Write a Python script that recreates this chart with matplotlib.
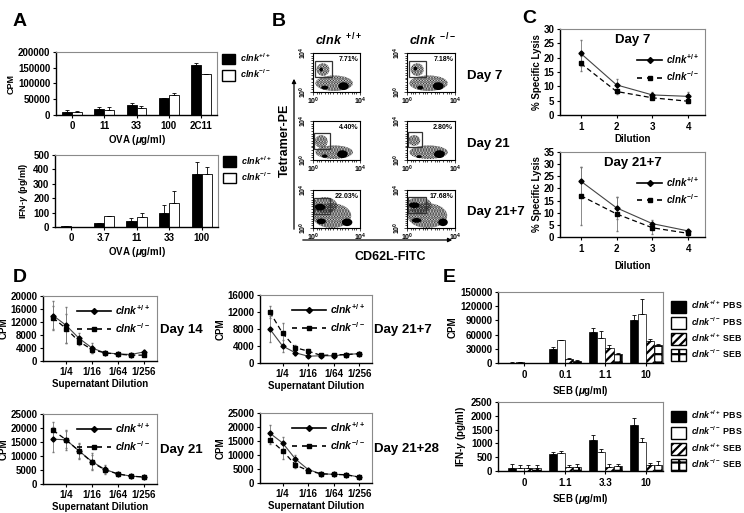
import matplotlib
matplotlib.use("Agg")
import matplotlib.pyplot as plt
import numpy as np
from matplotlib.patches import Ellipse, Rectangle, Patch
from matplotlib.lines import Line2D

plt.rcParams['font.family'] = ['Liberation Sans', 'DejaVu Sans']
plt.rcParams['font.weight'] = 'bold'
plt.rcParams['mathtext.fontset'] = 'custom'
plt.rcParams['mathtext.rm'] = 'Liberation Sans:bold'
plt.rcParams['mathtext.it'] = 'Liberation Sans:italic:bold'
plt.rcParams['mathtext.bf'] = 'Liberation Sans:bold'
plt.rcParams['hatch.linewidth'] = 1.6

WT = r'$\mathit{clnk}^{+/+}$'
KO = r'$\mathit{clnk}^{-/-}$'

# ---------------- data ----------------
# Panel A
a1_groups = ['0', '11', '33', '100', '2C11']
a1_wt = [10000, 18000, 32000, 53000, 160000]
a1_wt_err = [5000, 8000, 6000, 2000, 6000]
a1_ko = [10000, 16000, 23000, 63000, 130000]
a1_ko_err = [4000, 10000, 6000, 8000, 0]

a2_groups = ['0', '3.7', '11', '33', '100']
a2_wt = [5, 25, 40, 100, 365]
a2_wt_err = [0, 5, 25, 50, 85]
a2_ko = [3, 75, 70, 165, 370]
a2_ko_err = [0, 0, 25, 85, 50]

# Panel B (flow cytometry, log10 coordinates)
b_cols = [r'$\mathit{clnk}^{\ +/+}$', r'$\mathit{clnk}^{\ -/-}$']
b_rows = ['Day 7', 'Day 21', 'Day 21+7']
b_pct = ['7.71%', '7.18%', '4.40%', '2.80%', '22.03%', '17.68%']
b_gates = [(0.15, 1.6, 1.5, 3.2), (0.15, 1.6, 1.5, 3.2),
           (0.05, 1.45, 1.1, 2.8), (0.05, 1.25, 1.3, 2.9),
           (0.05, 1.45, 1.5, 3.2), (0.05, 1.55, 1.6, 3.3)]
b_dense = [[(2.6, 0.6, 0.9, 0.8), (1.0, 0.45, 0.6, 0.4), (0.7, 2.3, 0.3, 0.4)],
           [(2.6, 0.6, 0.9, 0.8), (1.1, 0.45, 0.5, 0.4), (0.7, 2.4, 0.3, 0.4)],
           [(2.5, 0.6, 0.9, 0.8), (1.0, 0.4, 0.5, 0.35)],
           [(2.7, 0.6, 0.9, 0.8), (1.0, 0.35, 0.45, 0.3)],
           [(2.9, 0.6, 0.9, 0.8), (0.6, 2.2, 0.9, 0.7), (0.7, 0.7, 0.8, 0.6)],
           [(3.0, 0.6, 0.8, 0.8), (0.6, 2.4, 0.9, 0.6), (0.8, 0.8, 0.8, 0.5)]]
b_sparse = [[(1.8, 0.9, 3.2, 1.6), (0.85, 2.3, 1.1, 1.3)],
            [(1.8, 0.9, 3.2, 1.6), (0.85, 2.3, 1.1, 1.3)],
            [(1.8, 0.8, 3.2, 1.4), (0.7, 1.9, 1.1, 1.3)],
            [(1.8, 0.8, 3.2, 1.4), (0.6, 2.0, 1.0, 1.1)],
            [(1.6, 1.3, 3.3, 2.6), (1.0, 2.4, 2.1, 1.7)],
            [(1.7, 1.3, 3.3, 2.6), (1.0, 2.4, 2.1, 1.7)]]

# Panel C
c_dil = [1, 2, 3, 4]
c1_wt = [21.5, 10.5, 7.0, 6.5]
c1_wt_err = [4.5, 2.0, 1.0, 1.5]
c1_ko = [18.0, 8.2, 6.0, 4.8]
c1_ko_err = [2.5, 1.0, 0.5, 0.5]
c2_wt = [23.0, 12.0, 5.5, 2.5]
c2_wt_err = [6.0, 4.5, 1.5, 0.5]
c2_ko = [17.0, 9.5, 3.8, 1.5]
c2_ko_err = [12.0, 7.0, 2.5, 1.0]

# Panel D
d_dil = [1/2, 1/4, 1/8, 1/16, 1/32, 1/64, 1/128, 1/256]
d_ticks = [1/4, 1/16, 1/64, 1/256]
d_ticklabels = ['1/4', '1/16', '1/64', '1/256']
d14_wt = [14000, 11000, 7000, 4000, 2500, 2200, 2000, 2800]
d14_wt_err = [4500, 5500, 1500, 1500, 300, 200, 200, 700]
d14_ko = [13300, 10000, 6000, 3500, 2500, 2100, 1800, 1800]
d14_ko_err = [3500, 4500, 1000, 1000, 300, 200, 300, 300]
d21_wt = [16000, 15800, 11800, 8000, 5200, 3600, 2800, 2500]
d21_wt_err = [4500, 3500, 3000, 3000, 1500, 500, 300, 300]
d21_ko = [19200, 15800, 11800, 7800, 5000, 3600, 2800, 2500]
d21_ko_err = [3000, 3000, 2500, 2500, 1000, 400, 300, 300]
d217_wt = [8000, 4000, 2400, 1600, 1700, 1700, 2000, 2200]
d217_wt_err = [3000, 1500, 500, 300, 200, 200, 200, 300]
d217_ko = [12000, 7000, 3600, 2800, 1800, 1900, 2000, 2200]
d217_ko_err = [1500, 2500, 600, 400, 200, 200, 200, 300]
d2128_wt = [17800, 14300, 8600, 4800, 3300, 3100, 3000, 2100]
d2128_wt_err = [3000, 2000, 1500, 500, 300, 300, 300, 200]
d2128_ko = [15500, 11500, 6500, 4400, 3300, 3100, 2900, 2100]
d2128_ko_err = [1500, 3000, 1000, 500, 300, 300, 300, 200]

# Panel E
e_labels = [WT + ' PBS', KO + ' PBS', WT + ' SEB', KO + ' SEB']
e1_groups = ['0', '0.1', '1.1', '10']
e1_vals = [[1000, 30000, 66000, 91000],
           [2000, 49000, 53000, 104000],
           [500, 9000, 32000, 47000],
           [500, 5000, 19000, 37000]]
e1_err = [[500, 3000, 9000, 10000],
          [500, 500, 15000, 31000],
          [300, 2000, 5000, 3000],
          [300, 2000, 3000, 3000]]
e2_groups = ['0', '1.1', '3.3', '10']
e2_vals = [[120, 600, 1130, 1650],
           [120, 650, 700, 1050],
           [100, 150, 150, 200],
           [120, 150, 170, 230]]
e2_err = [[120, 100, 180, 270],
          [80, 80, 100, 130],
          [100, 80, 100, 100],
          [90, 100, 100, 150]]

# ---------------- figure ----------------
W, H = 744, 513
fig = plt.figure(figsize=(W / 100, H / 100), dpi=100)
fig.patch.set_facecolor('white')


def ax_px(x0, y0, x1, y1):
    return fig.add_axes([x0 / W, 1 - y1 / H, (x1 - x0) / W, (y1 - y0) / H])


def txt(x, y, s, **kw):
    fig.text(x / W, 1 - y / H, s, **kw)


def style(ax, fs=6.5):
    for s in ['top', 'right']:
        ax.spines[s].set_color('#8a8a8a')
        ax.spines[s].set_linewidth(0.8)
    for s in ['left', 'bottom']:
        ax.spines[s].set_color('black')
        ax.spines[s].set_linewidth(1.0)
    ax.tick_params(direction='out', length=2.5, width=0.8, labelsize=fs, pad=1.5)
    for lab in ax.get_xticklabels() + ax.get_yticklabels():
        lab.set_fontweight('bold')


# Panel letters
for lx, ly, L in [(13, 22, 'A'), (272, 22, 'B'), (522, 19, 'C'), (13, 277, 'D'), (443, 277, 'E')]:
    txt(lx, ly, L, fontsize=14, fontweight='bold', va='center', ha='left')

# ---- Panel A ----
def bar_pair(ax, groups, wt, wte, ko, koe, ylim, yticks, ylabel):
    x = np.arange(len(groups))
    bw = 0.31
    ax.bar(x - bw / 2, wt, bw, color='black', edgecolor='black', linewidth=0.6)
    ax.bar(x + bw / 2, ko, bw, color='white', edgecolor='black', linewidth=0.6)
    ax.errorbar(x - bw / 2, wt, yerr=[np.zeros(len(wt)), wte], fmt='none',
                ecolor='black', elinewidth=0.6, capsize=1.5, capthick=0.6)
    ax.errorbar(x + bw / 2, ko, yerr=[np.zeros(len(ko)), koe], fmt='none',
                ecolor='black', elinewidth=0.6, capsize=1.5, capthick=0.6)
    ax.set_xlim(-0.5, len(groups) - 0.5)
    ax.set_ylim(*ylim)
    ax.set_yticks(yticks)
    ax.set_xticks(x)
    ax.set_xticklabels(groups)
    ax.tick_params(axis='x', length=0)
    ax.set_ylabel(ylabel, fontsize=6.5, fontweight='bold', labelpad=2)
    ax.set_xlabel(r'OVA ($\mu$g/ml)', fontsize=7, fontweight='bold', labelpad=2)
    style(ax, 7)
    handles = [Patch(facecolor='black', edgecolor='black'), Patch(facecolor='white', edgecolor='black')]
    ax.legend(handles, [WT, KO], loc='upper left', bbox_to_anchor=(1.01, 1.06), frameon=False,
              fontsize=6.5, handlelength=1.4, handleheight=1.4, handletextpad=0.6, labelspacing=0.4,
              borderaxespad=0)


axA1 = ax_px(56, 52, 217, 115)
bar_pair(axA1, a1_groups, a1_wt, a1_wt_err, a1_ko, a1_ko_err, (0, 200000),
         [0, 50000, 100000, 150000, 200000], 'CPM')
axA2 = ax_px(55, 155, 218, 227)
bar_pair(axA2, a2_groups, a2_wt, a2_wt_err, a2_ko, a2_ko_err, (0, 500),
         [0, 100, 200, 300, 400, 500], r'IFN-$\gamma$ (pg/ml)')

# ---- Panel B ----
col_x = [(313, 360), (407, 455)]
row_y = [(53, 92), (121, 160), (190, 228)]
minor_pos = np.log10([2, 3, 5, 10, 20, 30, 50, 100, 200, 300, 500, 1000, 2000, 3000, 5000])
for r in range(3):
    for c in range(2):
        i = r * 2 + c
        (x0, x1), (y0, y1) = col_x[c], row_y[r]
        ax = ax_px(x0, y0, x1, y1)
        ax.set_xlim(0, 4)
        ax.set_ylim(0, 4)
        for (cx, cy, w, h) in b_sparse[i]:
            ax.add_patch(Ellipse((cx, cy), w, h, facecolor='none', edgecolor='#222222',
                                 linewidth=0, hatch='......'))
        for (cx, cy, w, h) in b_dense[i]:
            ax.add_patch(Ellipse((cx, cy), w, h, facecolor='black', edgecolor='black',
                                 linewidth=0))
        gx0, gx1, gy0, gy1 = b_gates[i]
        ax.add_patch(Rectangle((gx0, gy0), gx1 - gx0, gy1 - gy0, facecolor='none',
                               edgecolor='#333333', linewidth=0.9))
        ax.text(3.85, 3.7, b_pct[i], fontsize=5, ha='right', va='top', fontweight='bold')
        ax.set_xticks([0, 4])
        ax.set_xticklabels([r'$10^0$', r'$10^4$'], fontsize=5)
        ax.set_yticks([0, 4])
        ax.set_yticklabels([r'$10^0$', r'$10^4$'], fontsize=5, rotation=90, va='center')
        ax.set_xticks(minor_pos, minor=True)
        ax.set_yticks(minor_pos, minor=True)
        ax.tick_params(which='both', direction='out', width=0.5, pad=0.5)
        ax.tick_params(which='major', length=2.5)
        ax.tick_params(which='minor', length=1.2)
        for s in ax.spines.values():
            s.set_linewidth(0.8)
for c in range(2):
    txt(sum(col_x[c]) / 2 + 2, 40, b_cols[c], fontsize=9, ha='center', va='center')
for r in range(3):
    txt(467, sum(row_y[r]) / 2 + 3, b_rows[r], fontsize=9.5, fontweight='bold', ha='left', va='center')
txt(285, 140, 'Tetramer-PE', fontsize=9, fontweight='bold', rotation=90, ha='center', va='center')
txt(390, 257, 'CD62L-FITC', fontsize=9, fontweight='bold', ha='center', va='center')
fig.add_artist(matplotlib.patches.FancyArrowPatch((294 / W, 1 - 232 / H), (294 / W, 1 - 76 / H),
               transform=fig.transFigure, arrowstyle='-|>', mutation_scale=6, linewidth=0.9, color='black'))
fig.add_artist(matplotlib.patches.FancyArrowPatch((300 / W, 1 - 240 / H), (455 / W, 1 - 240 / H),
               transform=fig.transFigure, arrowstyle='-|>', mutation_scale=6, linewidth=0.9, color='black'))


# ---- Panel C & D line plots ----
def line_pair(ax, x, wt, wte, ko, koe):
    ax.errorbar(x, wt, yerr=wte, color='#444444', linestyle='-', linewidth=0.8,
                marker='D', markersize=2.6, markerfacecolor='black', markeredgecolor='black',
                ecolor='#777777', elinewidth=0.6, capsize=1)
    ax.errorbar(x, ko, yerr=koe, color='black', linestyle=(0, (4, 2.5)), linewidth=0.9,
                marker='s', markersize=3.2, markerfacecolor='black', markeredgecolor='black',
                ecolor='#777777', elinewidth=0.6, capsize=1)


leg_handles = [Line2D([], [], color='black', linestyle='-', linewidth=1.2, marker='D', markersize=3),
               Line2D([], [], color='black', linestyle=(0, (3, 3)), linewidth=1.2, marker='s', markersize=3.5)]

for box, wt, wte, ko, koe, ymax, title, lp in [
        ((560, 29, 705, 115), c1_wt, c1_wt_err, c1_ko, c1_ko_err, 30, 'Day 7', 1.5),
        ((560, 152, 705, 237), c2_wt, c2_wt_err, c2_ko, c2_ko_err, 35, 'Day 21+7', 5)]:
    ax = ax_px(*box)
    line_pair(ax, c_dil, wt, wte, ko, koe)
    ax.set_xlim(0.42, 4.47)
    ax.set_ylim(0, ymax)
    ax.set_yticks(np.arange(0, ymax + 1, 5))
    ax.set_xticks(c_dil)
    ax.set_xlabel('Dilution', fontsize=7, fontweight='bold', labelpad=lp)
    ax.set_ylabel('% Specific Lysis', fontsize=7, fontweight='bold', labelpad=1)
    ax.text(0.5, 0.87, title, transform=ax.transAxes, fontsize=9.5, fontweight='bold', ha='center', va='center')
    ax.legend(leg_handles, [WT, KO], loc='upper right', bbox_to_anchor=(1.0, 0.8), frameon=False, fontsize=7,
              handlelength=2.6, handletextpad=0.4, labelspacing=0.35, borderaxespad=0.2)
    style(ax, 7)
    ax.tick_params(axis='x', pad=2.5)

# D
d_specs = [((43, 296, 157, 361), d14_wt, d14_wt_err, d14_ko, d14_ko_err, 20000, 4000, 'Day 14', 160),
           ((43, 414, 157, 484), d21_wt, d21_wt_err, d21_ko, d21_ko_err, 25000, 5000, 'Day 21', 160),
           ((260, 295, 372, 363), d217_wt, d217_wt_err, d217_ko, d217_ko_err, 16000, 4000, 'Day 21+7', 374),
           ((260, 413, 372, 483), d2128_wt, d2128_wt_err, d2128_ko, d2128_ko_err, 25000, 5000, 'Day 21+28', 374)]
for box, wt, wte, ko, koe, ymax, ystep, lab, labx in d_specs:
    ax = ax_px(*box)
    line_pair(ax, d_dil, wt, wte, ko, koe)
    ax.set_xscale('log', base=2)
    ax.set_xlim(2 ** -0.23, 2 ** -9)
    ax.set_ylim(0, ymax)
    ax.set_yticks(np.arange(0, ymax + 1, ystep))
    ax.set_xticks(d_ticks)
    ax.set_xticklabels(d_ticklabels)
    ax.minorticks_off()
    ax.set_xlabel('Supernatant Dilution', fontsize=7, fontweight='bold', labelpad=1.5)
    ax.set_ylabel('CPM', fontsize=7, fontweight='bold', labelpad=1)
    ax.legend(leg_handles, [WT, KO], loc='upper right', frameon=False, fontsize=7.5,
              handlelength=3.2, handletextpad=0.4, labelspacing=0.35, borderaxespad=0.3)
    style(ax, 7)
    ax.tick_params(axis='x', pad=2)
    txt(labx, (box[1] + box[3]) / 2 + 1, lab, fontsize=9.5, fontweight='bold', ha='left', va='center')

# ---- Panel E ----
e_faces = ['black', 'white', 'white', 'white']
e_hatches = [None, None, '////', '++']


def bar_quad(ax, groups, vals, errs, ylim, yticks, ylabel):
    x = np.arange(len(groups))
    bw = 0.2
    for k in range(4):
        xs = x + (k - 1.5) * bw
        ax.bar(xs, vals[k], bw, color=e_faces[k], edgecolor='black', linewidth=0.5, hatch=e_hatches[k])
        ax.errorbar(xs, vals[k], yerr=[np.zeros(len(groups)), errs[k]], fmt='none',
                    ecolor='black', elinewidth=0.6, capsize=1.3, capthick=0.6)
    ax.set_xlim(-0.65, len(groups) - 0.58)
    ax.set_ylim(*ylim)
    ax.set_yticks(yticks)
    ax.set_xticks(x)
    ax.set_xticklabels(groups)
    ax.tick_params(axis='x', length=0)
    ax.set_ylabel(ylabel, fontsize=7, fontweight='bold', labelpad=2)
    ax.set_xlabel(r'SEB ($\mu$g/ml)', fontsize=7, fontweight='bold', labelpad=3)
    style(ax, 7)
    ax.tick_params(axis='x', pad=2.5)
    handles = [Patch(facecolor=e_faces[k], edgecolor='black', hatch=e_hatches[k]) for k in range(4)]
    ax.legend(handles, e_labels, loc='upper left', bbox_to_anchor=(1.03, 0.95), frameon=False,
              fontsize=6.3, handlelength=1.7, handleheight=1.7, handletextpad=0.5, labelspacing=0.3,
              borderaxespad=0)


axE1 = ax_px(498, 292, 663, 363)
bar_quad(axE1, e1_groups, e1_vals, e1_err, (0, 150000),
         [0, 30000, 60000, 90000, 120000, 150000], 'CPM')
axE2 = ax_px(498, 402, 663, 471)
bar_quad(axE2, e2_groups, e2_vals, e2_err, (0, 2500),
         [0, 500, 1000, 1500, 2000, 2500], r'IFN-$\gamma$ (pg/ml)')

fig.savefig('out.png', dpi=100, facecolor='white')
